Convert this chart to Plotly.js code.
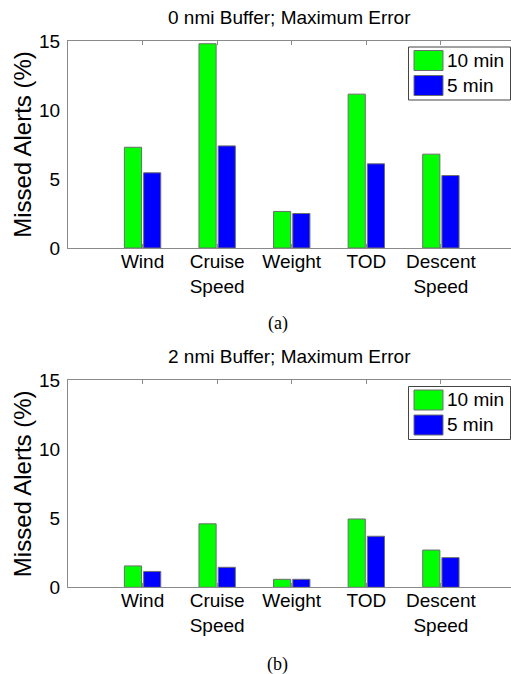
<!DOCTYPE html>
<html>
<head>
<meta charset="utf-8">
<script src="https://cdn.plot.ly/plotly-3.0.1.min.js"></script>
<style>
  html, body { margin: 0; padding: 0; background: #fff; }
  #chart { width: 511px; height: 674px; }
</style>
</head>
<body>
<div id="chart"></div>
<script>
// Parameters varied in the error study
const categories = ["Wind", "Cruise<br>Speed", "Weight", "TOD", "Descent<br>Speed"];
const seriesNames = ["10 min", "5 min"];

// Missed alerts (%) with a 0 nmi buffer
const buffer0_10min = [7.3, 14.8, 2.65, 11.15, 6.8];
const buffer0_5min  = [5.45, 7.4, 2.5, 6.1, 5.25];

// Missed alerts (%) with a 2 nmi buffer
const buffer2_10min = [1.55, 4.6, 0.58, 4.95, 2.7];
const buffer2_5min  = [1.15, 1.45, 0.58, 3.7, 2.15];

const panelTitles = ["0 nmi Buffer; Maximum Error", "2 nmi Buffer; Maximum Error"];
const captions = ["(a)", "(b)"];
const yTickVals = [0, 5, 10, 15];

const W = 511, H = 674;
const px = x => x / W;
const py = y => 1 - y / H;

const GREEN = "#00ff00", BLUE = "#0000ff", EDGE = "#6e6e6e", AXIS = "#8a8a8a";
const SANS = "Liberation Sans, Arial, Helvetica, sans-serif";

function barTrace(y, name, color, xa, ya) {
  return {
    type: "bar", x: categories, y: y, name: name,
    xaxis: xa, yaxis: ya, showlegend: false,
    marker: { color: color, line: { color: EDGE, width: 1 } },
    hoverinfo: "skip"
  };
}

const data = [
  barTrace(buffer0_10min, seriesNames[0], GREEN, "x", "y"),
  barTrace(buffer0_5min, seriesNames[1], BLUE, "x", "y"),
  barTrace(buffer2_10min, seriesNames[0], GREEN, "x2", "y2"),
  barTrace(buffer2_5min, seriesNames[1], BLUE, "x2", "y2")
];

function xAxis(anchor) {
  return {
    anchor: anchor, domain: [px(68), 1],
    type: "category", range: [-1, 4.94],
    showline: true, linecolor: AXIS, linewidth: 1, mirror: "ticks",
    ticks: "inside", ticklen: 4, tickcolor: AXIS,
    showgrid: false, zeroline: false, fixedrange: true,
    ticklabelstandoff: -4,
    tickfont: { family: SANS, size: 19, color: "#000" }
  };
}
function yAxis(anchor, top, bottom) {
  return {
    anchor: anchor, domain: [py(bottom), py(top)],
    range: [0, 15], tickvals: yTickVals,
    showline: true, linecolor: AXIS, linewidth: 1, mirror: true,
    ticks: "", showgrid: false, zeroline: false, fixedrange: true,
    ticklabelstandoff: 3,
    tickfont: { family: SANS, size: 19, color: "#000" },
    title: { text: "Missed Alerts (%)", standoff: 0,
             font: { family: SANS, size: 24, color: "#000" } }
  };
}

// Legend drawn as large swatches in the upper right of each panel
const shapes = [];
const annotations = [];
function legendBox(offset) {
  shapes.push({ type: "rect", xref: "paper", yref: "paper",
    x0: px(408.5), x1: px(510.5), y0: py(47 + offset), y1: py(100 + offset),
    line: { color: "#444", width: 1 }, fillcolor: "#fff" });
  const rows = [[50.5, 70.5, GREEN], [75.5, 95.5, BLUE]];
  rows.forEach((r, i) => {
    shapes.push({ type: "rect", xref: "paper", yref: "paper",
      x0: px(414), x1: px(443), y0: py(r[1] + offset), y1: py(r[0] + offset),
      line: { color: EDGE, width: 1 }, fillcolor: r[2] });
    annotations.push({ xref: "paper", yref: "paper",
      x: px(445), y: py((r[0] + r[1]) / 2 + offset), xanchor: "left", yanchor: "middle",
      text: seriesNames[i], showarrow: false,
      font: { family: SANS, size: 19, color: "#000" } });
  });
}
legendBox(0);
legendBox(339.5);

[[17.7, 0], [356.7, 1]].forEach(([y, i]) => {
  annotations.push({ xref: "paper", yref: "paper", x: px(289.5), y: py(y),
    xanchor: "center", yanchor: "middle", text: panelTitles[i], showarrow: false,
    font: { family: SANS, size: 19, color: "#000" } });
});
[[324, 0], [664, 1]].forEach(([y, i]) => {
  annotations.push({ xref: "paper", yref: "paper", x: px(277.7), y: py(y),
    xanchor: "center", yanchor: "middle", text: captions[i], showarrow: false,
    font: { family: "Liberation Serif, Times New Roman, serif", size: 18, color: "#000" } });
});

const layout = {
  width: W, height: H,
  margin: { l: 0, r: 0, t: 0, b: 0 },
  paper_bgcolor: "#fff", plot_bgcolor: "#fff",
  barmode: "group", bargap: 0.485, bargroupgap: 0.107,
  showlegend: false,
  xaxis: xAxis("y"),
  yaxis: yAxis("x", 41, 248),
  xaxis2: xAxis("y2"),
  yaxis2: yAxis("x2", 380.3, 587.3),
  shapes: shapes,
  annotations: annotations
};

Plotly.newPlot("chart", data, layout, { staticPlot: true, displayModeBar: false });
</script>
</body>
</html>
